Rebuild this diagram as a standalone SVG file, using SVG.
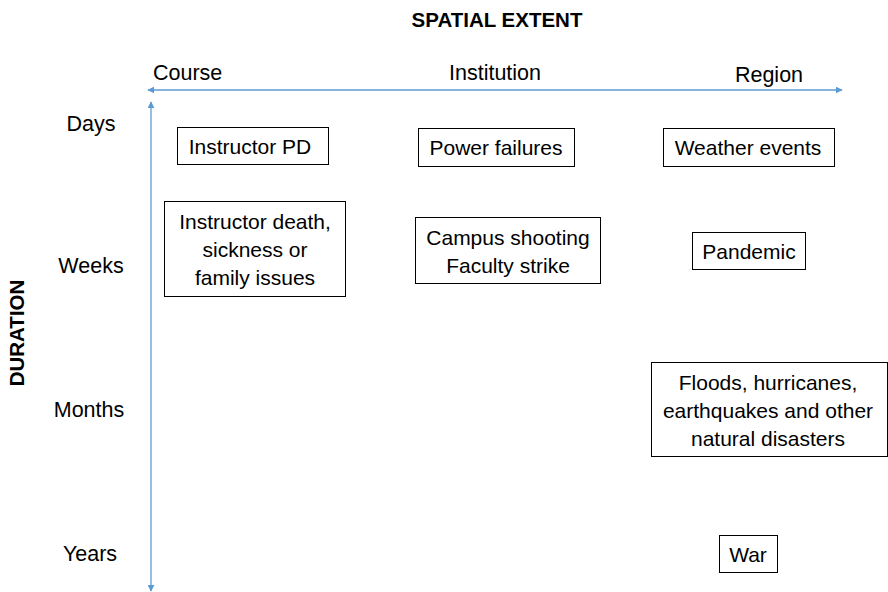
<svg xmlns="http://www.w3.org/2000/svg" width="888" height="592" viewBox="0 0 888 592">
<style>
text{font-family:"Liberation Sans","Open Sans",sans-serif;font-size:21px;fill:#000;text-anchor:middle}
.b{font-weight:bold;font-size:20.5px}
.a{font-size:21.5px}
rect{fill:#fff;stroke:#000;stroke-width:1}
.ax{stroke:#5B9BD5;stroke-width:1.3;fill:none}
</style>
<defs>
<marker id="ah" viewBox="0 0 10 10" refX="9" refY="5" markerWidth="7" markerHeight="7" markerUnits="userSpaceOnUse" orient="auto-start-reverse"><path d="M0,0 L10,5 L0,10 z" fill="#5B9BD5"/></marker>
</defs>
<rect x="0" y="0" width="888" height="592" style="fill:#fff;stroke:none"/>
<text class="b" x="497" y="27">SPATIAL EXTENT</text>
<text class="b" transform="translate(24,333) rotate(-90)">DURATION</text>
<g id="axis-labels">
<text class="a" x="153" y="80" style="text-anchor:start">Course</text>
<text class="a" x="495" y="80">Institution</text>
<text class="a" x="769" y="82">Region</text>
<text class="a" x="91" y="131">Days</text>
<text class="a" x="91" y="273">Weeks</text>
<text class="a" x="89" y="417">Months</text>
<text class="a" x="90" y="561">Years</text>
</g>
<g id="connectors">
<line class="ax" x1="148" y1="90" x2="842" y2="90" marker-start="url(#ah)" marker-end="url(#ah)"/>
<line class="ax" x1="151" y1="102" x2="151" y2="591" marker-start="url(#ah)" marker-end="url(#ah)"/>
</g>
<g id="instructor-pd"><rect x="177.5" y="127.5" width="151" height="37"/><text x="250" y="154">Instructor PD</text></g>
<g id="power-failures"><rect x="418.5" y="128.5" width="156" height="38"/><text x="496" y="155">Power failures</text></g>
<g id="weather-events"><rect x="663.5" y="128.5" width="171" height="38"/><text x="748" y="155">Weather events</text></g>
<g id="instructor-death"><rect x="164.5" y="201.5" width="181" height="95"/><text x="255" y="229">Instructor death,</text><text x="255" y="257">sickness or</text><text x="255" y="285">family issues</text></g>
<g id="campus-shooting"><rect x="415.5" y="217.5" width="185" height="66"/><text x="508" y="245">Campus shooting</text><text x="508" y="273">Faculty strike</text></g>
<g id="pandemic"><rect x="692.5" y="232.5" width="113" height="37"/><text x="749" y="259">Pandemic</text></g>
<g id="floods"><rect x="651.5" y="362.5" width="236" height="94"/><text x="768" y="390">Floods, hurricanes,</text><text x="768" y="418">earthquakes and other</text><text x="768" y="446">natural disasters</text></g>
<g id="war"><rect x="719.5" y="535.5" width="58" height="37"/><text x="748" y="562">War</text></g>
</svg>
